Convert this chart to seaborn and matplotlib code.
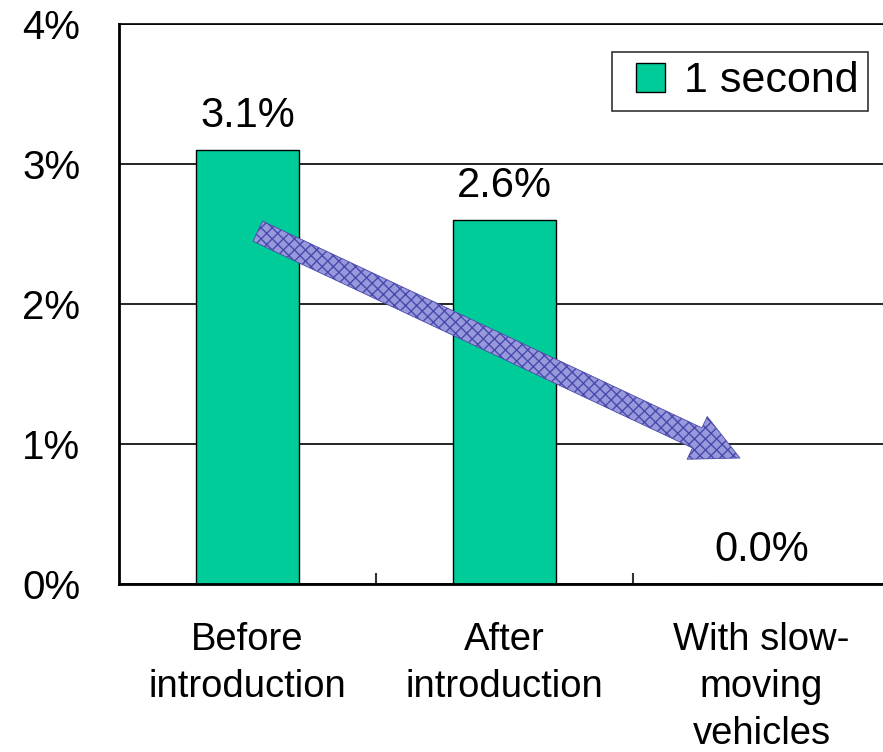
import matplotlib
matplotlib.use("Agg")
import matplotlib.pyplot as plt
import matplotlib.patches as mpatches
from matplotlib.container import BarContainer
from matplotlib.legend_handler import HandlerPatch, update_from_first_child
import seaborn as sns
import pandas as pd
from matplotlib.ticker import FixedLocator, FuncFormatter

# Share of vehicles with a 1-second headway
categories = ["Before\nintroduction", "After\nintroduction", "With slow-\nmoving\nvehicles"]
values = [3.1, 2.6, 0.0]
series_name = "1 second"
y_ticks = [0, 1, 2, 3, 4]

sns.set_theme(style="white")
plt.rcParams["font.family"] = ["Liberation Sans", "DejaVu Sans"]
plt.rcParams["text.color"] = "black"
plt.rcParams["axes.labelcolor"] = "black"
plt.rcParams["xtick.color"] = "black"
plt.rcParams["ytick.color"] = "black"

df = pd.DataFrame({"category": categories, "share": values})

fig = plt.figure(figsize=(8.83, 7.52), dpi=100)
ax = fig.add_axes([119 / 883, 1 - 584 / 752, 771 / 883, 560 / 752])

sns.barplot(data=df, x="category", y="share", color="#00CC99", width=0.4,
            edgecolor="black", linewidth=1.0, saturation=1, label=series_name, ax=ax)

ax.set_ylim(0, 4)
ax.set_xlim(-0.5, 2.5)
ax.yaxis.set_major_locator(FixedLocator(y_ticks))
ax.yaxis.set_major_formatter(FuncFormatter(lambda v, _: f"{v:.0f}%"))
ax.grid(axis="y", color="black", linewidth=1.2)
ax.set_axisbelow(True)
ax.set_xlabel("")
ax.set_ylabel("")

for side in ("left", "bottom", "top"):
    ax.spines[side].set_visible(True)
    ax.spines[side].set_color("black")
ax.spines["left"].set_linewidth(2.0)
ax.spines["bottom"].set_linewidth(2.0)
ax.spines["top"].set_linewidth(1.2)
ax.spines["right"].set_visible(False)

ax.tick_params(axis="y", length=0, pad=28, labelsize=29, labelcolor="black")
ax.tick_params(axis="x", which="major", length=0, pad=27, labelsize=27.5, labelcolor="black")
ax.xaxis.set_minor_locator(FixedLocator([0.5, 1.5]))
ax.tick_params(axis="x", which="minor", direction="in", length=8, width=1.5,
               color="#333333", bottom=True)
for lbl in ax.get_xticklabels():
    lbl.set_multialignment("center")
    lbl.set_linespacing(1.4)
    lbl.set_verticalalignment("top")

ax.bar_label(ax.containers[0], labels=[f"{v:.1f}%" for v in values],
             padding=10, fontsize=30, color="black")

# Downward trend arrow
ax.annotate("", xy=(1.916, 0.9), xytext=(0.04, 2.52),
            arrowprops=dict(arrowstyle="simple,head_length=3.4,head_width=3.4,tail_width=1.6",
                            mutation_scale=10, shrinkA=0, shrinkB=0,
                            facecolor="#9898dc", edgecolor="#4a4aac", linewidth=0.6,
                            hatch="xxx"))


def square_patch(legend, orig_handle, xdescent, ydescent, width, height, fontsize):
    # square swatch pushed to the right end of the handle box
    return mpatches.Rectangle((-xdescent + width - height, -ydescent), height, height)


leg = ax.legend(loc="upper right", bbox_to_anchor=(0.9715, 0.95), borderaxespad=0,
                fontsize=31, frameon=True, fancybox=False, shadow=False,
                handlelength=1.0, handleheight=0.65, handletextpad=0.45,
                borderpad=0.22, labelcolor="black",
                handler_map={BarContainer: HandlerPatch(patch_func=square_patch,
                                                        update_func=update_from_first_child)})
leg.get_frame().set_edgecolor("black")
leg.get_frame().set_linewidth(1.2)

fig.savefig("out.png", dpi=100)
